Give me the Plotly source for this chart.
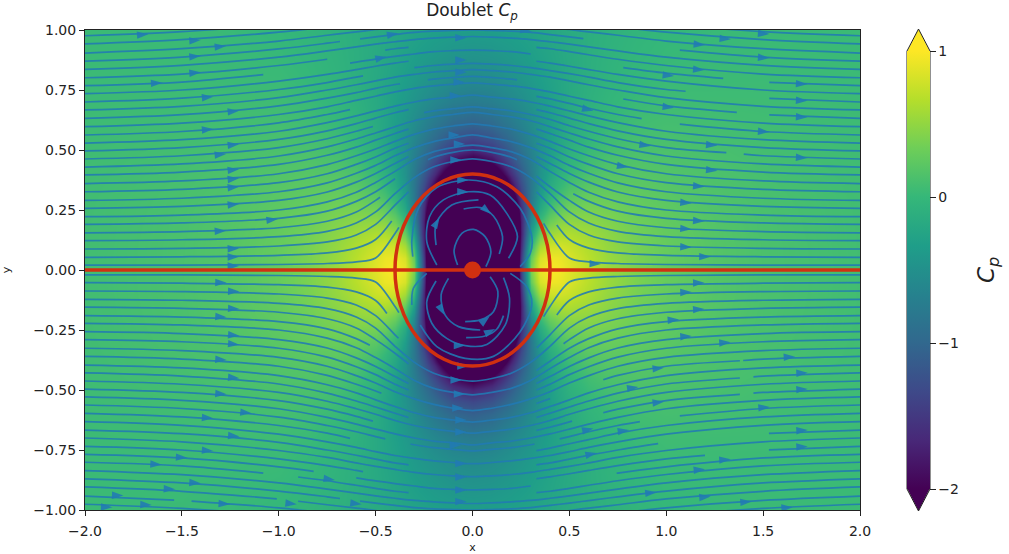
import numpy as np
import plotly.graph_objects as go

# ---------- Cp field (one quadrant, x >= 0, y >= 0) ----------
cp_x = [0, .1, .2, .25, .3, .35, .4, .45, .5, .6, .7, .85, 1, 1.25, 1.5, 2]
cp_y = [0, .05, .1, .15, .2, .25, .3, .35, .4, .45, .5, .55, .6, .7, .8, 1]
cp_table = [
    [-4, -4, -4, -1.43, .395, .907, 1.0, .956, .87, .691, .546, .394, .294, .194, .137, .078],
    [-4, -4, -4, -1.51, .28, .82, .94, .914, .84, .676, .538, .39, .29, .19, .135, .078],
    [-4, -4, -4, -1.67, 0, .59, .775, .797, .757, .631, .512, .377, .285, .19, .135, .077],
    [-4, -4, -4, -1.77, -.32, .3, .55, .632, .635, .563, .472, .357, .275, .185, .132, .077],
    [-4, -4, -4, -1.75, -.57, .03, .32, .449, .495, .48, .421, .332, .26, .18, .13, .076],
    [-4, -4, -3.1, -1.64, -.72, -.19, .113, .273, .352, .39, .364, .301, .243, .172, .127, .075],
    [-4, -4, -2.46, -1.48, -.79, -.336, -.05, .12, .22, .30, .304, .268, .224, .163, .122, .073],
    [-4, -3.5, -1.97, -1.31, -.8, -.427, -.17, 0, .11, .216, .245, .233, .203, .152, .116, .071],
    [-3, -2.55, -1.6, -1.15, -.77, -.47, -.25, -.09, .02, .142, .189, .198, .181, .14, .109, .068],
    [-2.2, -1.93, -1.32, -1.0, -.72, -.485, -.3, -.156, -.05, .078, .138, .165, .159, .127, .1, .065],
    [-1.69, -1.51, -1.1, -.876, -.664, -.478, -.324, -.2, -.1, .026, .094, .133, .137, .113, .09, .061],
    [-1.34, -1.22, -.934, -.77, -.608, -.46, -.333, -.226, -.139, -.016, .055, .104, .117, .1, .082, .057],
    [-1.086, -1.0, -.8, -.677, -.553, -.436, -.331, -.24, -.163, -.049, .022, .077, .097, .087, .074, .053],
    [-.76, -.717, -.604, -.532, -.457, -.382, -.31, -.245, -.187, -.093, -.027, .033, .062, .06, .058, .046],
    [-.562, -.538, -.47, -.426, -.378, -.329, -.28, -.233, -.19, -.115, -.058, 0, .033, .04, .042, .038],
    [-.346, -.336, -.308, -.288, -.267, -.243, -.219, -.194, -.17, -.125, -.085, -.039, -.006, .0235, .035, .037],
]

# ---------- Streamlines: height at each |x| station, upper half ----------
stations = [2, 1.5, 1, .75, .6, .5, .4, .3, .2, .1, 0]
stream_rows = [
    [.976, .993, 1.024, 1.045, 1.058, 1.066, 1.074, 1.08, 1.085, 1.088, 1.09],
    [.942, .960, .991, 1.013, 1.028, 1.036, 1.045, 1.05, 1.053, 1.056, 1.062],
    [.904, .922, .954, .978, .992, 1.002, 1.011, 1.018, 1.023, 1.026, 1.03],
    [.87, .887, .921, .945, .961, .971, .981, .99, .995, .998, 1.0],
    [.836, .853, .887, .913, .93, .941, .951, .96, .966, .97, .973],
    [.801, .816, .852, .878, .897, .91, .922, .93, .937, .942, .943],
    [.768, .783, .82, .846, .866, .879, .89, .90, .91, .914, .916],
    [.735, .75, .787, .815, .835, .849, .862, .873, .882, .887, .889],
    [.70, .716, .752, .781, .804, .818, .831, .843, .852, .858, .861],
    [.667, .682, .718, .75, .772, .788, .804, .815, .825, .831, .835],
    [.632, .647, .684, .716, .739, .757, .773, .785, .795, .802, .807],
    [.597, .612, .648, .68, .707, .724, .742, .757, .767, .774, .78],
    [.5625, .577, .613, .648, .674, .694, .713, .728, .74, .747, .754],
    [.529, .543, .578, .614, .642, .663, .683, .70, .713, .72, .729],
    [.496, .51, .544, .58, .61, .633, .655, .674, .687, .695, .704],
    [.4625, .476, .51, .547, .578, .601, .627, .648, .663, .672, .68],
    [.429, .442, .475, .513, .546, .571, .597, .622, .638, .648, .657],
    [.396, .408, .44, .478, .512, .541, .569, .595, .614, .625, .634],
    [.36, .371, .401, .439, .476, .504, .536, .565, .587, .60, .609],
    [.326, .336, .364, .401, .44, .471, .507, .537, .56, .576, .586],
    [.29, .299, .326, .363, .403, .436, .476, .51, .535, .55, .563],
    [.257, .265, .29, .325, .366, .402, .444, .486, .515, .533, .542],
    [.222, .229, .25, .284, .324, .365, .411, .46, .493, .51, .52],
    [.19, .196, .215, .245, .286, .326, .38, .435, .47, .49, .50],
    [.155, .16, .176, .203, .2415, .29, .347, .41, .45, .47, .481],
    [.122, .126, .139, .161, .196, .242, .318, .385, .43, .452, .463],
    [.0875, .09, .10, .117, .146, .19, .27, .35, .405, .432, .444],
    [.053, .055, .061, .071, .091, .127, .22, .317, .38, .415, .426],
    [.02, .0205, .023, .027, .034, .05, .152, .28, .36, .40, .41],
]

# Breaks in the lines: row index -> list of (x from, x to) where nothing is drawn
gaps_upper = {
    3: [(-.684, -.58), (.572, 1.07)],
    5: [(-.75, -.45), (-.33, .33)],
    6: [(-1.08, -.632), (.3, .778), (1.294, 1.532)],
    7: [(-.33, .33)],
    8: [(-.565, -.3), (1.1, 1.532)],
    10: [(-.374, -.23), (.23, .778), (1.364, 1.532)],
    12: [(-.632, .33), (.873, 1.07)],
    14: [(-.33, .33)],
    15: [(-.514, -.25), (1.31, 1.4)],
    17: [(-.33, .33)],
    19: [(-.33, .33)],
    21: [(-.33, .33)],
    23: [(-.4, -.23), (.23, .52)],
    24: [(-.477, .33)],
    26: [(-.33, .33)],
    27: [(-.417, .435)],
    28: [(-.38, .367)],
}
gaps_lower = {
    1: [(-1.54, -1.45)],
    2: [(-1.01, -.9)],
    3: [(-.684, -.58)],
    5: [(-1.08, -.9), (-.33, .33)],
    6: [(-.82, -.6), (.3, .744)],
    7: [(-.565, .33), (1.2, 1.53)],
    9: [(-.33, .33), (.958, 1.53)],
    11: [(-.632, .33)],
    12: [(-.45, -.32), (.32, .45), (.864, 1.07)],
    14: [(-.514, .33), (.514, .675), (1.38, 1.45)],
    16: [(-.33, .33), (1.38, 1.45)],
    18: [(-.47, .33), (.4, .675), (1.38, 1.397)],
    20: [(-.33, .33)],
    21: [(-.33, .33)],
    23: [(-.53, .33)],
    24: [(-.33, .47)],
    26: [(-.382, .332)],
    27: [(-.442, .435)],
    28: [(-.38, .367)],
}

# Closed-flow arcs inside the circle
inner_arcs = [
    [(-.308, .056), (-.313, .125), (-.279, .257), (-.184, .344), (-.02, .375), (.126, .347), (.246, .257), (.306, .139), (.298, .069), (.246, .014)],
    [(-.184, .021), (-.236, .118), (-.222, .222), (-.15, .292), (-.02, .326), (.091, .3125), (.177, .236), (.232, .139), (.186, .049)],
    [(-.188, .104), (-.188, .194), (-.107, .271), (.031, .292)],
    [(-.046, .254), (.04, .26), (.108, .225), (.155, .139), (.138, .067)],
    [(-.077, .021), (-.095, .083), (-.055, .153), (.005, .169), (.065, .139), (.095, .076), (.069, .014)],
    [(-.188, -.046), (-.236, -.132), (-.21, -.222), (-.133, -.285), (-.038, -.315), (.074, -.31), (.169, -.229), (.191, -.118), (.16, -.032)],
    [(-.124, -.035), (-.162, -.104), (-.141, -.188), (-.072, -.236), (.04, -.25)],
    [(-.033, -.282), (.065, -.275), (.126, -.246), (.16, -.19)],
    [(-.038, -.215), (.04, -.208), (.108, -.174), (.131, -.09), (.091, -.028)],
    [(-.236, -.014), (-.305, -.076), (-.313, -.146)],
    [(-.27, -.229), (-.184, -.319), (-.038, -.368), (.108, -.36), (.246, -.257), (.306, -.146), (.28, -.07), (.195, -.014)],
]

# Arrowheads: x, y, heading in degrees
arrows = [
    # upper left
    (-1.673, .982, 86), (-1.403, .958, 86), (-1.272, .933, 85), (-1.403, .892, 85), (-1.403, .824, 85),
    (-1.601, .78, 87), (-1.338, .722, 85), (-1.205, .664, 84), (-1.338, .5875, 85), (-1.205, .524, 84),
    (-1.272, .483, 85), (-1.205, .42, 84), (-1.205, .382, 84), (-1.205, .347, 85), (-1.205, .275, 85),
    (-1.005, .2125, 83), (-1.272, .164, 87), (-1.205, .09, 88), (-1.205, .055, 89), (-1.205, .017, 90),
    # upper right
    (1.532, .983, 94), (1.334, .961, 95), (1.2, .9375, 95), (1.532, .883, 94), (1.197, .833, 95),
    (1.04, .808, 96), (1.728, .774, 93), (1.728, .705, 93), (1.04, .676, 97), (.624, .664, 103),
    (1.728, .636, 93), (1.532, .575, 94), (.92, .517, 98), (1.264, .519, 95), (1.728, .467, 93),
    (.804, .428, 100), (1.264, .414, 95), (1.197, .347, 95), (1.131, .278, 95), (1.197, .203, 94),
    (1.131, .17, 94), (1.131, .095, 92), (1.229, .055, 91), (.663, .025, 92),
    # lower left
    (-1.269, -.053, 91), (-1.203, -.09, 92), (-1.203, -.1625, 93), (-1.269, -.197, 94), (-1.203, -.274, 95),
    (-1.203, -.311, 95), (-1.269, -.375, 94), (-1.203, -.451, 95), (-1.269, -.518, 94), (-1.14, -.597, 96),
    (-1.338, -.618, 94), (-1.203, -.694, 95), (-1.338, -.754, 94), (-1.472, -.782, 93), (-1.604, -.811, 93),
    (-1.403, -.889, 94), (-1.535, -.914, 93), (-1.802, -.94, 92), (-1.859, -.989, 92), (-1.656, -.979, 92),
    (-1.252, -.976, 94), (-.907, -.976, 96), (-.71, -.875, 98), (-.572, -.976, 97),
    # lower right
    (1.197, -.053, 89), (1.131, -.092, 88), (1.197, -.1625, 87), (1.066, -.206, 86), (1.131, -.275, 86),
    (1.332, -.301, 86), (1.665, -.361, 87), (.988, -.407, 84), (1.73, -.428, 87), (.856, -.4875, 82),
    (1.73, -.496, 87), (.988, -.549, 84), (1.534, -.571, 86), (.624, -.66, 78), (.808, -.667, 82),
    (1.73, -.667, 87), (1.73, -.735, 87), (.641, -.7625, 78), (1.332, -.789, 86), (1.2, -.83, 85),
    (.95, -.926, 84), (1.229, -.944, 85), (1.441, -.965, 86), (1.653, -.989, 87),
    # centre column, above and below
    (-.383, .986, 80), (.305, .993, 100), (-.03, .968, 90), (-.443, .889, 78), (-.03, .875, 90),
    (-.03, .824, 90), (-.039, .782, 90), (-.059, .726, 90), (-.065, .5625, 90), (-.038, .525, 90),
    (-.056, .458, 90), (-.02, .375, 90), (-.02, .326, 90), (-.17, .219, 30), (.096, .233, 130),
    (-.03, -.625, 90), (-.03, -.675, 90), (-.059, -.73, 90), (-.03, -.806, 90), (-.03, -.8625, 90),
    (-.03, -.917, 90), (-.03, -.965, 90), (-.02, -.40, 90), (-.055, -.458, 90), (-.038, -.517, 90),
    (-.046, -.575, 90), (-.038, -.315, 90), (.117, -.246, 65), (.088, -.194, 50), (-.145, -.188, 150),
]

x_ticks = [-2, -1.5, -1, -.5, 0, .5, 1, 1.5, 2]
y_ticks = [-1, -.75, -.5, -.25, 0, .25, .5, .75, 1]
cbar_ticks = [-2, -1, 0, 1]
axis_line_y = [-2, 2]
body_center = [0]
body_radius = .4

TEXT = "#222222"
RED = "#d03010"
BLUE = "rgba(33,122,180,0.88)"
VIRIDIS = "Viridis"

# Mirror the quadrant into the whole plane
q = np.array(cp_table)
top = np.hstack([q[:, :0:-1], q])
z = np.vstack([top[:0:-1], top])
xs = [-v for v in cp_x[:0:-1]] + cp_x
ys = [-v for v in cp_y[:0:-1]] + cp_y

st_x = [-s for s in stations] + stations[-2::-1]


def split_row(row, gaps, sign):
    yy = row + row[-2::-1]
    ax, ay = [], []
    lo = -2.0
    edges = sorted(gaps) + [(2.0, None)]
    for g0, g1 in edges:
        inside = [i for i, v in enumerate(st_x) if lo < v < g0]
        sx = [lo] + [st_x[i] for i in inside] + [g0]
        sy = [float(np.interp(lo, st_x, yy))] + [yy[i] for i in inside] + [float(np.interp(g0, st_x, yy))]
        ax += sx + [None]
        ay += [sign * v for v in sy] + [None]
        lo = g1
    return ax, ay


line_x, line_y = [], []
for i, row in enumerate(stream_rows):
    a, b = split_row(row, gaps_upper.get(i, []), 1)
    line_x += a
    line_y += b
    a, b = split_row(row, gaps_lower.get(i, []), -1)
    line_x += a
    line_y += b
for arc in inner_arcs:
    line_x += [p[0] for p in arc] + [None]
    line_y += [p[1] for p in arc] + [None]

fig = go.Figure()
fig.add_trace(go.Heatmap(
    x=xs, y=ys, z=z, zmin=-2, zmax=1, colorscale=VIRIDIS, zsmooth="best", hoverinfo="skip",
    colorbar=dict(
        x=(907 - 85) / 775, xanchor="left", xpad=0, y=.5, yanchor="middle", ypad=0,
        len=438, lenmode="pixels", thickness=23, thicknessmode="pixels",
        tickvals=cbar_ticks, ticks="outside", ticklen=6, tickwidth=1, tickcolor=TEXT,
        tickfont=dict(family="DejaVu Sans", size=14, color=TEXT),
        outlinewidth=0,
    ),
))
fig.add_trace(go.Scatter(x=line_x, y=line_y, mode="lines", hoverinfo="skip", showlegend=False,
                         line=dict(color=BLUE, width=1.7, shape="spline", smoothing=.9)))
fig.add_trace(go.Scatter(x=[a[0] for a in arrows], y=[a[1] for a in arrows], mode="markers",
                         hoverinfo="skip", showlegend=False,
                         marker=dict(symbol="arrow", size=12, angle=[a[2] for a in arrows],
                                     color=BLUE, line=dict(width=0))))
fig.add_trace(go.Scatter(x=axis_line_y, y=[0, 0], mode="lines", hoverinfo="skip", showlegend=False,
                         line=dict(color=RED, width=3.5)))
fig.add_trace(go.Scatter(x=body_center, y=body_center, mode="markers", hoverinfo="skip", showlegend=False,
                         marker=dict(color=RED, size=17, line=dict(width=0))))

px_x = lambda p: (p - 85) / 775
px_y = lambda p: (510 - p) / 480
fig.update_layout(
    width=1009, height=554, autosize=False,
    margin=dict(l=85, r=149, t=30, b=44, pad=0),
    paper_bgcolor="white", plot_bgcolor="white",
    font=dict(family="DejaVu Sans", size=14, color=TEXT),
    title=dict(text="Doublet <i>C<sub>p</sub></i>", x=472 / 1009, xanchor="center",
               y=1 - 10 / 554, yanchor="middle", font=dict(size=17, color=TEXT)),
    xaxis=dict(range=[-2, 2], tickvals=x_ticks, tickformat=".1f", ticks="outside", ticklen=5, tickwidth=1,
               tickcolor=TEXT, showline=True, mirror=True, linecolor=TEXT, linewidth=1, showgrid=False,
               zeroline=False, automargin=False, ticklabelstandoff=3,
               title=dict(text="x", standoff=14, font=dict(size=11, color=TEXT))),
    yaxis=dict(range=[-1, 1], tickvals=y_ticks, tickformat=".2f", ticks="outside", ticklen=5, tickwidth=1,
               tickcolor=TEXT, showline=True, mirror=True, linecolor=TEXT, linewidth=1, showgrid=False,
               zeroline=False, automargin=False,
               title=dict(text="y", standoff=27, font=dict(size=11, color=TEXT))),
    annotations=[dict(text="<i>C<sub>p</sub></i>", xref="paper", yref="paper", x=px_x(988), y=px_y(270),
                      xanchor="center", yanchor="middle", showarrow=False, textangle=-90,
                      font=dict(size=23, color=TEXT))],
    shapes=[
        dict(type="circle", xref="x", yref="y", x0=-body_radius, x1=body_radius, y0=-body_radius, y1=body_radius,
             line=dict(color=RED, width=3.5), layer="above"),
        dict(type="path", xref="paper", yref="paper",
             path=f"M {px_x(907)} {px_y(52)} L {px_x(918.5)} {px_y(29)} L {px_x(930)} {px_y(52)} Z",
             fillcolor="#fde725", line=dict(width=0)),
        dict(type="path", xref="paper", yref="paper",
             path=f"M {px_x(907)} {px_y(488)} L {px_x(918.5)} {px_y(511)} L {px_x(930)} {px_y(488)} Z",
             fillcolor="#440154", line=dict(width=0)),
        dict(type="path", xref="paper", yref="paper",
             path=(f"M {px_x(907)} {px_y(51)} L {px_x(918.5)} {px_y(29)} L {px_x(930)} {px_y(51)} "
                   f"L {px_x(930)} {px_y(489)} L {px_x(918.5)} {px_y(511)} L {px_x(907)} {px_y(489)} Z"),
             line=dict(color=TEXT, width=1)),
    ],
)

fig.write_html("out.html", post_script="document.body.style.margin='0';", config={"displayModeBar": False})
